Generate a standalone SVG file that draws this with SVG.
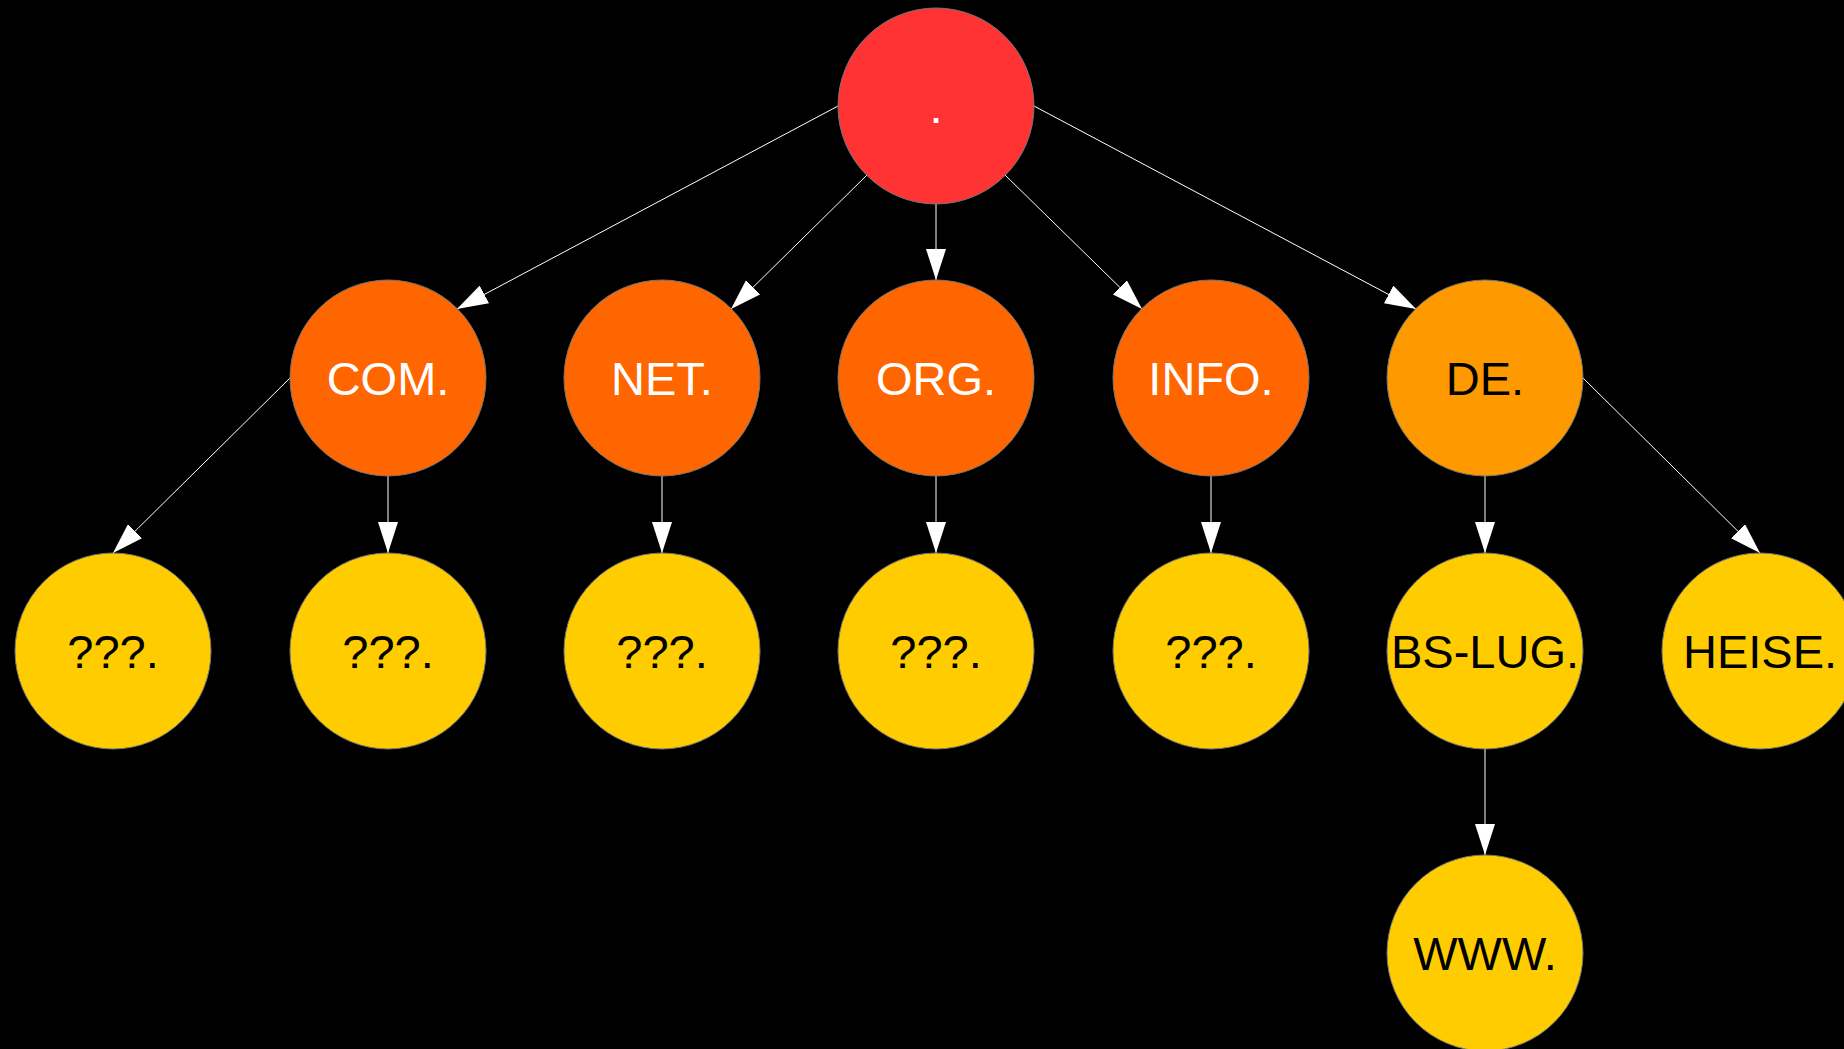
<svg xmlns="http://www.w3.org/2000/svg" width="1844" height="1049" viewBox="0 0 1844 1049">
<style>
.n{stroke:#777;stroke-width:1}
.t{font-family:"Liberation Sans",Arial,sans-serif;font-size:47px;text-anchor:middle}
.w{fill:#fff}
.b{fill:#000}
.e{stroke:#fff;stroke-width:1;fill:none;marker-end:url(#a)}
</style>
<defs>
<marker id="a" markerUnits="userSpaceOnUse" markerWidth="31" markerHeight="20" refX="31" refY="10" orient="auto">
<path d="M0,0 L31,10 L0,20 z" fill="#fff"/>
</marker>
</defs>
<rect width="1844" height="1049" fill="#000"/>
<g id="edges">
<line class="e" x1="838" y1="106" x2="457" y2="309"/>
<line class="e" x1="867" y1="175" x2="731" y2="309"/>
<line class="e" x1="936" y1="204" x2="936" y2="280"/>
<line class="e" x1="1005" y1="175" x2="1142" y2="309"/>
<line class="e" x1="1034" y1="106" x2="1416" y2="309"/>
<line class="e" x1="290" y1="378" x2="113" y2="553"/>
<line class="e" x1="388" y1="476" x2="388" y2="553"/>
<line class="e" x1="662" y1="476" x2="662" y2="553"/>
<line class="e" x1="936" y1="476" x2="936" y2="553"/>
<line class="e" x1="1211" y1="476" x2="1211" y2="553"/>
<line class="e" x1="1485" y1="476" x2="1485" y2="553"/>
<line class="e" x1="1583" y1="378" x2="1760" y2="553"/>
<line class="e" x1="1485" y1="749" x2="1485" y2="855"/>
</g>
<g id="root"><circle class="n" cx="936" cy="106" r="98" fill="#ff3333"/><text class="t w" x="936" y="123">.</text></g>
<g id="com"><circle class="n" cx="388" cy="378" r="98" fill="#ff6600"/><text class="t w" x="388" y="395">COM.</text></g>
<g id="net"><circle class="n" cx="662" cy="378" r="98" fill="#ff6600"/><text class="t w" x="662" y="395">NET.</text></g>
<g id="org"><circle class="n" cx="936" cy="378" r="98" fill="#ff6600"/><text class="t w" x="936" y="395">ORG.</text></g>
<g id="info"><circle class="n" cx="1211" cy="378" r="98" fill="#ff6600"/><text class="t w" x="1211" y="395">INFO.</text></g>
<g id="de"><circle class="n" cx="1485" cy="378" r="98" fill="#ff9900"/><text class="t b" x="1485" y="395">DE.</text></g>
<g id="com-q"><circle class="n" cx="113" cy="651" r="98" fill="#ffcc00"/><text class="t b" x="113" y="668">???.</text></g>
<g id="com-q2"><circle class="n" cx="388" cy="651" r="98" fill="#ffcc00"/><text class="t b" x="388" y="668">???.</text></g>
<g id="net-q"><circle class="n" cx="662" cy="651" r="98" fill="#ffcc00"/><text class="t b" x="662" y="668">???.</text></g>
<g id="org-q"><circle class="n" cx="936" cy="651" r="98" fill="#ffcc00"/><text class="t b" x="936" y="668">???.</text></g>
<g id="info-q"><circle class="n" cx="1211" cy="651" r="98" fill="#ffcc00"/><text class="t b" x="1211" y="668">???.</text></g>
<g id="bslug"><circle class="n" cx="1485" cy="651" r="98" fill="#ffcc00"/><text class="t b" x="1485" y="668">BS-LUG.</text></g>
<g id="heise"><circle class="n" cx="1760" cy="651" r="98" fill="#ffcc00"/><text class="t b" x="1760" y="668">HEISE.</text></g>
<g id="www"><circle class="n" cx="1485" cy="953" r="98" fill="#ffcc00"/><text class="t b" x="1485" y="970">WWW.</text></g>
</svg>
